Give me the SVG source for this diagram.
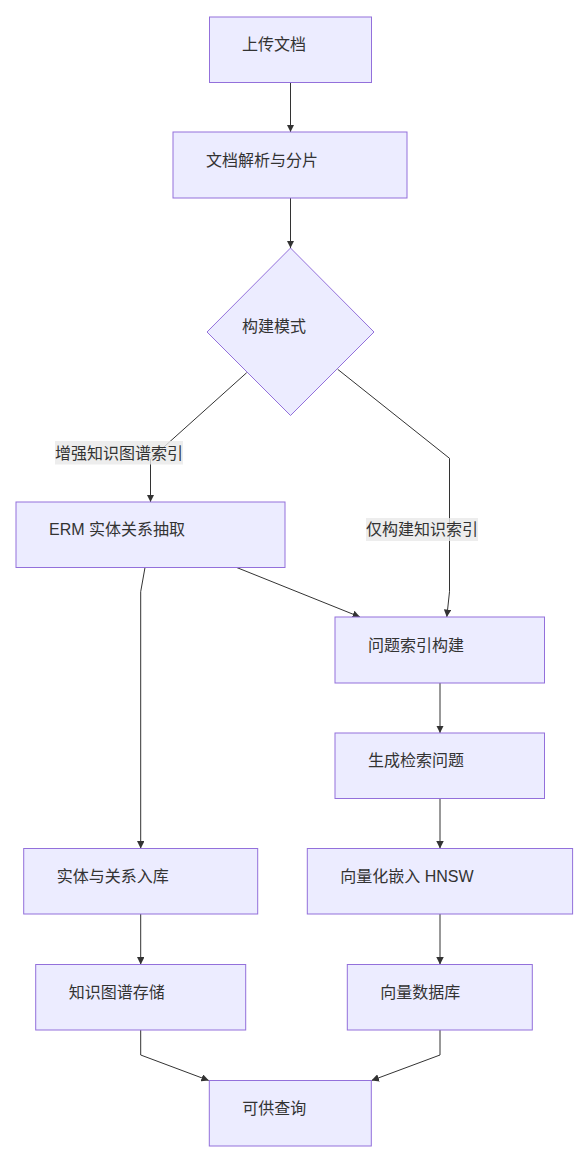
<svg xmlns="http://www.w3.org/2000/svg" width="581" height="1155" viewBox="0 0 581 1155">
<style>
  .node rect, .node polygon { fill: #ECECFF; stroke: #9370DB; stroke-width: 1; }
  .node text, .elabel text { font-family: "Liberation Sans", "Noto Sans CJK SC", sans-serif; font-size: 16px; fill: #333333; }
  .edge { fill: none; stroke: #333333; stroke-width: 1; marker-end: url(#arrow); }
  .elabel rect { fill: #e8e8e8; fill-opacity: 0.8; }
</style>
<defs>
  <marker id="arrow" viewBox="0 0 10 10" refX="10" refY="5" markerUnits="userSpaceOnUse" markerWidth="7.5" markerHeight="7.5" orient="auto">
    <path d="M0,0 L10,5 L0,10 z" fill="#333333"/>
  </marker>
</defs>
<rect width="581" height="1155" fill="#ffffff"/>
<g id="edges">
  <path class="edge" d="M290.5,82.5 L290.5,132"/>
  <path class="edge" d="M290.5,198 L290.5,248"/>
  <path class="edge" d="M246.7,372.7 L150.5,459 L150.5,502"/>
  <path class="edge" d="M337.7,369.3 L449.5,458.3 L449.5,591.7 L446.8,617"/>
  <path class="edge" d="M236.7,567.5 L360,617"/>
  <path class="edge" d="M145,567.5 L140.7,591.7 L140.7,848.5"/>
  <path class="edge" d="M440,683 L440,733"/>
  <path class="edge" d="M440,798.5 L440,848.5"/>
  <path class="edge" d="M140.7,914 L140.7,964.5"/>
  <path class="edge" d="M440,914 L440,964.5"/>
  <path class="edge" d="M140.7,1030 L140.7,1055 L208.8,1080.5"/>
  <path class="edge" d="M440,1030 L440,1055 L371.5,1080.5"/>
</g>
<g id="edge-labels">
  <g class="elabel" id="label-kg">
    <rect x="55" y="441" width="128" height="23.5"/>
    <text x="55" y="458.5">增强知识图谱索引</text>
  </g>
  <g class="elabel" id="label-ki">
    <rect x="366" y="518" width="112" height="23"/>
    <text x="366" y="535">仅构建知识索引</text>
  </g>
</g>
<g id="n1" class="node">
  <rect x="209.5" y="17" width="162" height="65.5"/>
  <text x="242" y="50">上传文档</text>
</g>
<g id="n2" class="node">
  <rect x="173" y="132" width="234" height="66"/>
  <text x="206" y="166">文档解析与分片</text>
</g>
<g id="n3" class="node">
  <polygon points="290.5,248 374,332 290.5,415.5 207,332"/>
  <text x="242" y="332">构建模式</text>
</g>
<g id="n4" class="node">
  <rect x="16" y="502" width="269" height="65.5"/>
  <text x="49" y="535">ERM 实体关系抽取</text>
</g>
<g id="n5" class="node">
  <rect x="335" y="617" width="209.5" height="66"/>
  <text x="368" y="650.5">问题索引构建</text>
</g>
<g id="n6" class="node">
  <rect x="335" y="733" width="209.5" height="65.5"/>
  <text x="368" y="766">生成检索问题</text>
</g>
<g id="n7" class="node">
  <rect x="23.7" y="848.5" width="234" height="65.5"/>
  <text x="56.7" y="881.5">实体与关系入库</text>
</g>
<g id="n8" class="node">
  <rect x="307.3" y="848.5" width="265.3" height="65.5"/>
  <text x="340.3" y="881.5">向量化嵌入 HNSW</text>
</g>
<g id="n9" class="node">
  <rect x="35.7" y="964.5" width="210" height="65.5"/>
  <text x="68.7" y="997.5">知识图谱存储</text>
</g>
<g id="n10" class="node">
  <rect x="347.3" y="964.5" width="185" height="65.5"/>
  <text x="380.3" y="997.5">向量数据库</text>
</g>
<g id="n11" class="node">
  <rect x="209.3" y="1080.5" width="162" height="65.5"/>
  <text x="242.3" y="1113.5">可供查询</text>
</g>
</svg>
